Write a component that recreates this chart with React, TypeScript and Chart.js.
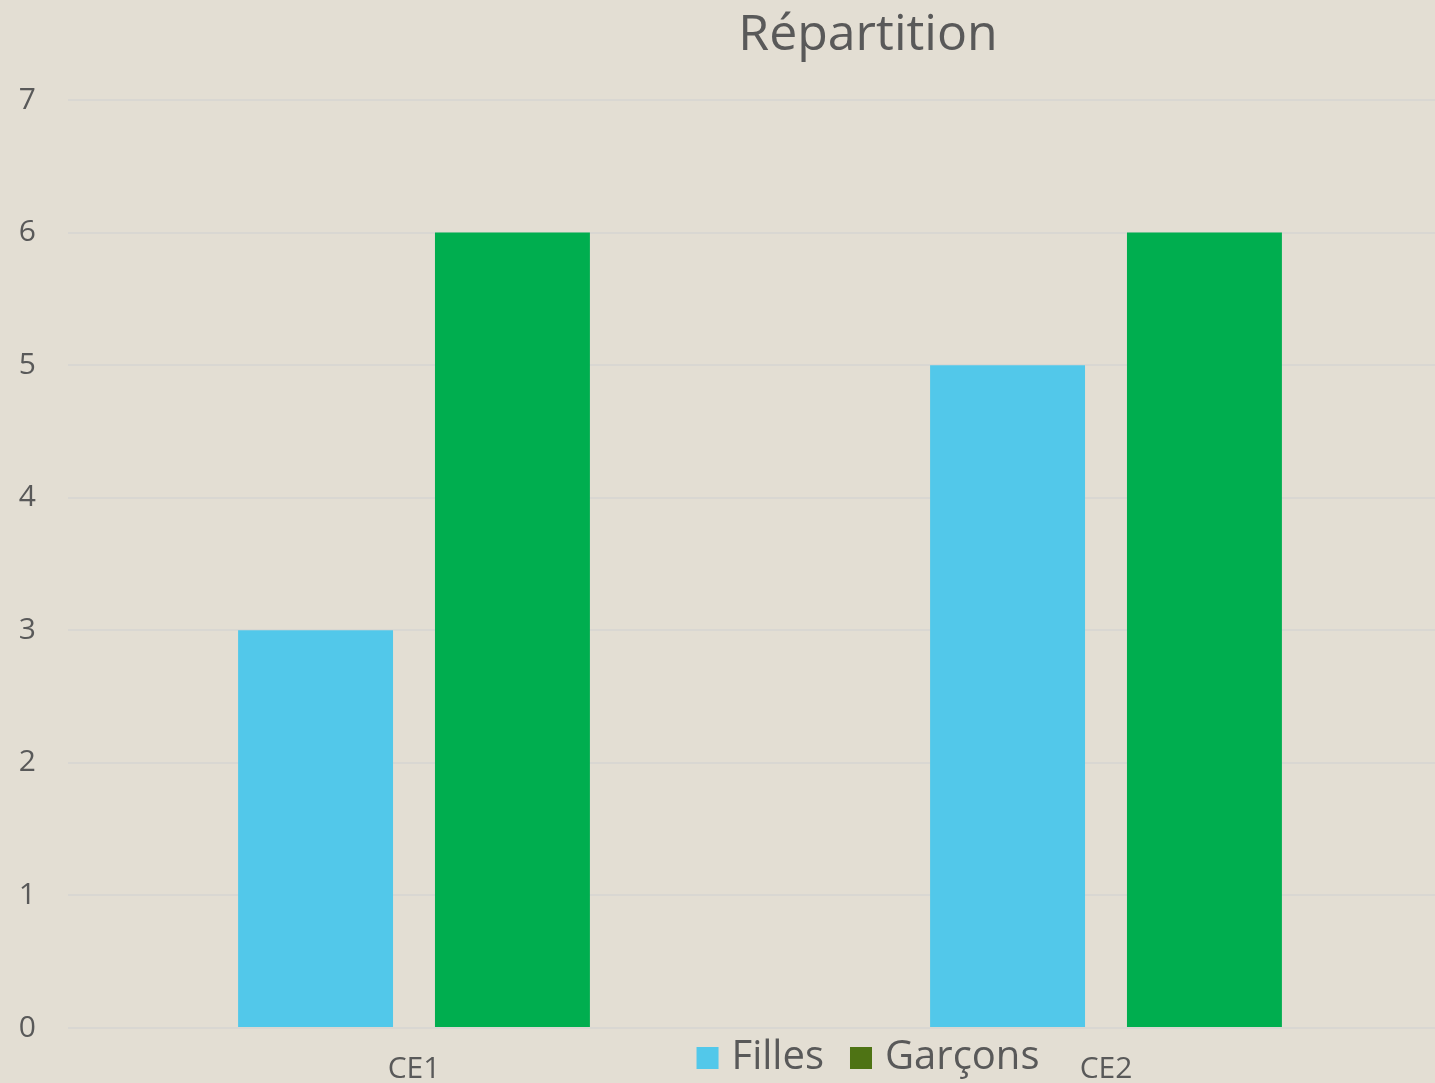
import React, { useEffect, useRef } from "react";
import { Chart, registerables } from "chart.js";

Chart.register(...registerables);

const categories = ["CE1", "CE2"];
const seriesNames = ["Filles", "Garçons"];
const filles = [3, 5];
const garcons = [6, 6];
const yTicks = [0, 1, 2, 3, 4, 5, 6, 7];

const FONT = "'Open Sans', 'DejaVu Sans', sans-serif";
const TEXT = "#595959";
const barColors = ["#52C8EA", "#00AE4F"];
const legendColors = ["#52C8EA", "#4E7314"];

const bottomLegend = {
  id: "bottomLegend",
  afterDraw(chart: any) {
    const ctx = chart.ctx;
    const size = 40;
    const box = 22;
    const gapBoxText = 13;
    const gapItems = 26;
    ctx.save();
    ctx.font = `${size}px ${FONT}`;
    const names = chart.data.datasets.map((d: any) => d.label as string);
    const widths = names.map((n: string) => box + gapBoxText + ctx.measureText(n).width);
    const total = widths.reduce((a: number, b: number) => a + b, 0) + gapItems * (names.length - 1);
    let x = chart.width / 2 - total / 2;
    const cy = 1058;
    names.forEach((n: string, i: number) => {
      ctx.fillStyle = legendColors[i];
      ctx.fillRect(x, cy - box / 2, box, box);
      ctx.fillStyle = TEXT;
      ctx.textBaseline = "middle";
      ctx.textAlign = "left";
      ctx.fillText(n, x + box + gapBoxText, cy);
      x += widths[i] + gapItems;
    });
    ctx.restore();
  },
};

export default function App() {
  const ref = useRef<HTMLCanvasElement | null>(null);

  useEffect(() => {
    if (!ref.current) return;
    const chart = new Chart(ref.current, {
      type: "bar",
      data: {
        labels: categories,
        datasets: [
          {
            label: seriesNames[0],
            data: filles,
            backgroundColor: barColors[0],
            categoryPercentage: 0.569,
            barPercentage: 0.787,
          },
          {
            label: seriesNames[1],
            data: garcons,
            backgroundColor: barColors[1],
            categoryPercentage: 0.569,
            barPercentage: 0.787,
          },
        ],
      },
      plugins: [bottomLegend],
      options: {
        responsive: false,
        animation: false,
        layout: { padding: 0 },
        plugins: {
          title: {
            display: true,
            text: "Répartition",
            color: TEXT,
            font: { family: FONT, size: 50, weight: "normal" },
            padding: { top: 6, bottom: 34 },
          },
          legend: { display: false },
          tooltip: { enabled: false },
        },
        scales: {
          x: {
            grid: { display: false },
            border: { display: false },
            ticks: {
              color: TEXT,
              font: { family: FONT, size: 30 },
              padding: 15,
            },
            afterFit: (s: any) => {
              s.height = 55;
            },
          },
          y: {
            min: 0,
            max: 7,
            afterBuildTicks: (s: any) => {
              s.ticks = yTicks.map((v) => ({ value: v }));
            },
            grid: { color: "#D9D7D2", lineWidth: 2, drawTicks: false },
            border: { display: false },
            ticks: {
              color: TEXT,
              font: { family: FONT, size: 30 },
              padding: 32,
            },
            afterFit: (s: any) => {
              s.width = 68;
            },
          },
          yRight: {
            position: "right",
            grid: { display: false },
            border: { display: false },
            ticks: { display: false },
            afterFit: (s: any) => {
              s.width = 284;
            },
          },
        },
      },
    });
    return () => chart.destroy();
  }, []);

  return (
    <div
      style={{
        position: "fixed",
        left: 0,
        top: 0,
        width: 1435,
        height: 1083,
        overflow: "hidden",
        background: "#E3DED3",
      }}
    >
      <canvas ref={ref} width={1736} height={1083} style={{ display: "block" }} />
    </div>
  );
}
